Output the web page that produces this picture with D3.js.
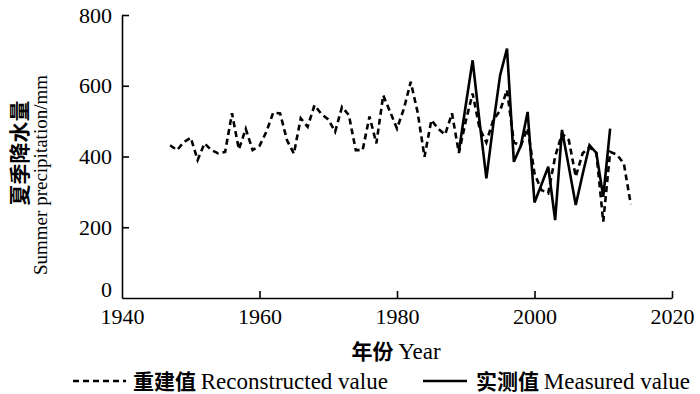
<!DOCTYPE html>
<html><head><meta charset="utf-8">
<script src="https://cdn.jsdelivr.net/npm/d3@7"></script>
<style>body{margin:0;background:#fff}svg{display:block}</style>
</head><body>
<svg id="c" width="700" height="394"></svg>
<script>
const reconYears = d3.range(1947, 2015);
const reconValues = [432,418,441,453,390,437,418,409,413,522,420,478,418,430,470,524,522,446,408,508,484,545,520,505,470,540,517,418,418,513,437,573,526,479,535,611,525,399,503,478,462,522,410,500,578,480,440,503,530,588,440,430,480,352,305,296,399,465,446,343,409,427,410,216,413,405,380,265];
const measYears = d3.range(1989, 2012);
const measValues = [415,545,672,500,338,490,630,705,385,430,526,270,320,371,220,475,370,263,350,432,410,286,479];
const xTicks = [1940,1960,1980,2000,2020];
const yTicks = [0,200,400,600,800];

const svg = d3.select("#c");
const serif = "'Liberation Serif','Times New Roman',serif";
const cjk = "'Noto Sans CJK SC',sans-serif";
const x = d3.scaleLinear().domain([1940,2020]).range([122,672]);
const y = d3.scaleLinear().domain([0,800]).range([298,15]);

const xAxis = svg.append("g").attr("transform","translate(0,298)")
  .call(d3.axisBottom(x).tickValues(xTicks).tickFormat(d3.format("d")).tickSizeInner(-7).tickSizeOuter(0).tickPadding(12));
const yAxis = svg.append("g").attr("transform","translate(122,0)")
  .call(d3.axisLeft(y).tickValues(yTicks).tickSizeInner(-7).tickSizeOuter(0).tickPadding(10));
[xAxis,yAxis].forEach(g=>{
  g.select(".domain").attr("stroke","#000").attr("stroke-width",1.6);
  g.selectAll(".tick line").attr("stroke","#000").attr("stroke-width",1.6);
  g.selectAll(".tick text").attr("font-family",serif).attr("font-size",22).attr("fill","#000");
});
yAxis.selectAll(".tick").filter(d=>d===0).select("line").remove();
yAxis.selectAll(".tick").filter(d=>d===0).select("text").attr("dy","-0.05em");
xAxis.selectAll(".tick").filter(d=>d===1940).select("line").remove();
xAxis.selectAll(".tick text").attr("dy","0.62em");

const line = d3.line().x(d=>x(d[0])).y(d=>y(d[1]));
svg.append("path").datum(reconYears.map((yr,i)=>[yr,reconValues[i]]))
  .attr("d",line).attr("fill","none").attr("stroke","#000").attr("stroke-width",2.6)
  .attr("stroke-dasharray","6,4");
svg.append("path").datum(measYears.map((yr,i)=>[yr,measValues[i]]))
  .attr("d",line).attr("fill","none").attr("stroke","#000").attr("stroke-width",2.6)
  .attr("stroke-linejoin","miter");

// axis titles
svg.append("text").attr("transform","translate(18,153) rotate(-90)")
  .attr("text-anchor","middle").attr("dominant-baseline","central").attr("font-family",cjk).attr("font-size",21).attr("font-weight","bold").text("夏季降水量");
svg.append("text").attr("transform","translate(47,175) rotate(-90)")
  .attr("text-anchor","middle").attr("font-family",serif).attr("font-size",19).text("Summer precipitation/mm");
const xt = svg.append("text").attr("x",396).attr("y",359).attr("text-anchor","middle").attr("font-size",23);
xt.append("tspan").attr("font-family",cjk).attr("font-weight","bold").attr("font-size",21).text("年份 ");
xt.append("tspan").attr("font-family",serif).text("Year");

// legend
svg.append("line").attr("x1",73).attr("x2",126).attr("y1",381).attr("y2",381)
  .attr("stroke","#000").attr("stroke-width",2.6).attr("stroke-dasharray","6,4");
const l1 = svg.append("text").attr("x",133).attr("y",389).attr("font-size",23);
l1.append("tspan").attr("font-family",cjk).attr("font-weight","bold").attr("font-size",21).text("重建值 ");
l1.append("tspan").attr("font-family",serif).text("Reconstructed value");
svg.append("line").attr("x1",423).attr("x2",467).attr("y1",381).attr("y2",381)
  .attr("stroke","#000").attr("stroke-width",2.6);
const l2 = svg.append("text").attr("x",476).attr("y",389).attr("font-size",23);
l2.append("tspan").attr("font-family",cjk).attr("font-weight","bold").attr("font-size",21).text("实测值 ");
l2.append("tspan").attr("font-family",serif).text("Measured value");
</script>
</body></html>
